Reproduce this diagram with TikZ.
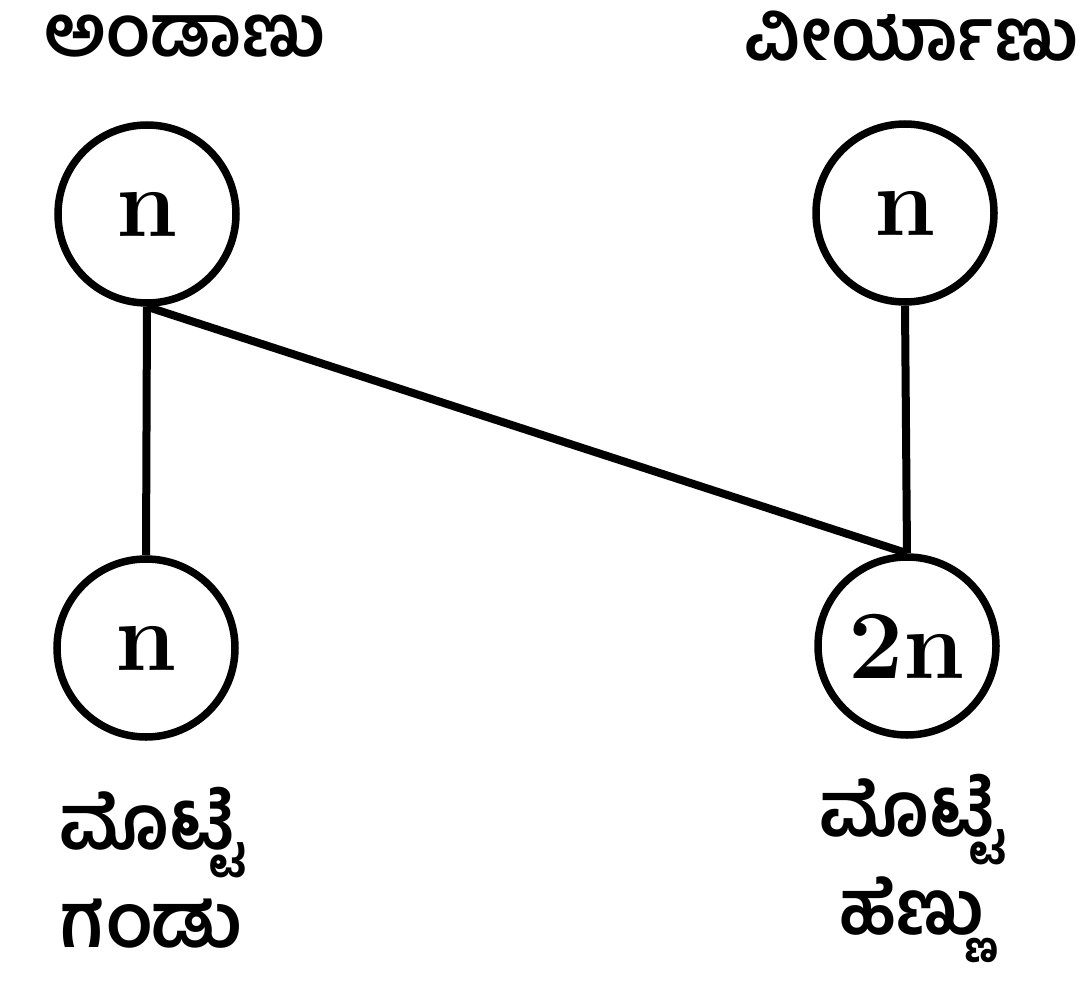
\documentclass[tikz,border=0pt]{standalone}
\usepackage{fontspec}
\newfontfamily\kn[Script=Kannada]{Hind Mysuru}
\begin{document}
\begin{tikzpicture}[x=1pt,y=-1pt,
  cell/.style={circle,draw,line width=7.5pt,minimum size=178pt,inner sep=0pt,
    font=\fontsize{98}{98}\selectfont\bfseries},
  link/.style={line width=8pt},
  lbl/.style={font=\kn\fontsize{72}{80}\selectfont\bfseries,align=center,inner sep=0pt},
  sublbl/.style={font=\kn\fontsize{76}{98}\selectfont\bfseries,align=center,inner sep=0pt}]
\useasboundingbox (0,0) rectangle (1084,1003);
% gametes
\node[cell] (egg)   at (147,214) {n};
\node[cell] (sperm) at (905,213) {n};
% offspring
\node[cell] (male)   at (146,648) {n};
\node[cell] (female) at (907,646) {2n};
% labels
\node[lbl] (legg)   at (185,36) {ಅಂಡಾಣು};
\node[lbl] (lsperm) at (912,36) {ವೀರ್ಯಾಣು};
\node[sublbl] (lmale)   at (152,868) {ಮೊಟ್ಟೆ\\ಗಂಡು};
\node[sublbl] (lfemale) at (912,868) {ಮೊಟ್ಟೆ\\ಹೆಣ್ಣು};
% fertilisation lines
\draw[link] (egg.south) -- (male.north);
\draw[link] (egg.south) -- (female.north);
\draw[link] (sperm.south) -- (female.north);
\end{tikzpicture}
\end{document}
